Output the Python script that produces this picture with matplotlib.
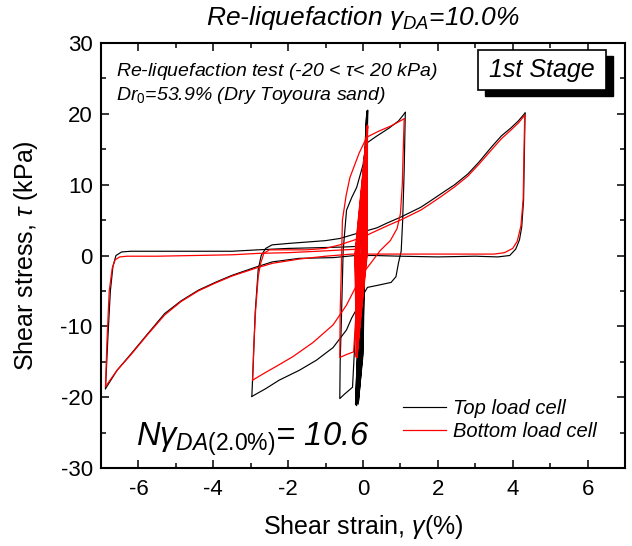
import matplotlib
matplotlib.use("Agg")
import matplotlib.pyplot as plt
from matplotlib.patches import Rectangle
from matplotlib.ticker import MultipleLocator

plt.rcParams['font.family'] = ['Liberation Sans', 'DejaVu Sans']
plt.rcParams['mathtext.fontset'] = 'custom'
plt.rcParams['mathtext.rm'] = 'Liberation Sans'
plt.rcParams['mathtext.it'] = 'Liberation Sans:italic'
plt.rcParams['mathtext.bf'] = 'Liberation Sans:bold'
plt.rcParams['axes.unicode_minus'] = False

# ---------------- data (strain %, stress kPa) ----------------
# Top load cell (black)
top_band_x = [-0.05, -0.20, 0.10, -0.02, -0.14, 0.11, -0.08, -0.17, 0.12, -0.01, -0.12, 0.10,
              -0.06, -0.19, 0.13, -0.03, -0.15, 0.11, -0.09, -0.18, 0.12, 0.00, -0.13, 0.10]
top_band_y = [0.0, -21.0, 20.4, -14.0, -20.8, 20.2, -14.0, -21.2, 20.5, -14.0, -20.6, 20.3,
              -14.0, -21.1, 20.5, -14.0, -20.9, 20.2, -14.0, -20.7, 20.4, -14.0, -21.0, 20.2]
top_t1_x = [0.10, -0.28, -0.50, -0.62, -0.61, -0.58, -0.53, -0.44, -0.30, -0.17, 0.00, 0.08,
            0.35, 0.70, 0.95, 1.13]
top_t1_y = [20.2, -18.6, -19.6, -20.2, -15.0, -9.6, 0.7, 6.4, 8.2, 9.6, 12.8, 15.8,
            16.8, 18.0, 19.0, 20.2]
top_p1_x = [1.13, 1.10, 1.06, 1.02, 0.95, 0.88, 0.75, 0.40, 0.12, 0.02, -0.10, -0.30, -0.44,
            -0.80, -1.25, -1.70, -2.24, -2.60, -2.97]
top_p1_y = [20.2, 12.0, 5.0, 0.6, -1.0, -3.0, -3.8, -4.2, -4.5, -5.4, -6.9, -8.8, -10.5,
            -13.0, -14.8, -16.2, -17.6, -18.8, -19.9]
top_t2_x = [-2.97, -2.93, -2.88, -2.80, -2.72, -2.60, -2.43, -2.00, -1.50, -1.00, -0.62, -0.17,
            0.37, 0.65, 1.00, 1.27, 1.54, 1.80, 2.08, 2.45, 2.80, 3.10, 3.43, 3.70, 3.95,
            4.15, 4.33]
top_t2_y = [-19.9, -15.0, -8.0, -2.0, 0.0, 1.0, 1.5, 1.7, 1.9, 2.1, 2.4, 3.1,
            3.9, 4.6, 5.4, 6.1, 6.8, 7.7, 8.7, 10.0, 11.5, 13.2, 15.3, 16.9, 18.0,
            19.0, 20.1]
top_p2_x = [4.33, 4.31, 4.29, 4.24, 4.18, 4.08, 3.92, 3.60, 3.00, 2.00, 1.00, 0.30, -0.20,
            -0.80, -1.70, -2.42, -2.87, -3.50, -3.95, -4.40, -4.86, -5.30, -5.76, -6.20,
            -6.57, -6.88]
top_p2_y = [20.1, 14.0, 7.8, 4.0, 2.2, 0.9, 0.0, -0.2, -0.1, -0.2, -0.1, 0.0, 0.0,
            -0.3, -0.4, -0.9, -1.65, -2.8, -3.8, -4.9, -6.4, -8.2, -11.1, -13.9,
            -16.2, -18.8]
top_t3_x = [-6.88, -6.82, -6.75, -6.68, -6.60, -6.45, -6.20, -5.50, -4.50, -3.50, -2.80,
            -2.00, -1.20, -0.50, -0.10]
top_t3_y = [-18.8, -12.0, -5.0, -1.5, 0.0, 0.5, 0.6, 0.6, 0.6, 0.6, 0.8,
            1.0, 1.1, 1.2, 1.3]

# Bottom load cell (red)
bot_band_x = [-0.05, -0.17, 0.10, 0.12, -0.21, -0.16, 0.06, 0.12, -0.17, -0.18, 0.02, 0.12,
              -0.13, -0.16, -0.02, 0.12, -0.09, -0.18, 0.08, 0.12, -0.19, -0.17, 0.04, 0.12,
              -0.15, -0.16, 0.11, 0.12, -0.22, -0.17, -0.05, 0.12, -0.11, -0.18, 0.0]
bot_band_y = [0.0, -14.3, 0.0, 18.3, 0.0, -14.4, 0.0, 18.1, 0.0, -14.2, 0.0, 18.4,
              0.0, -14.3, 0.0, 18.2, 0.0, -14.4, 0.0, 18.3, 0.0, -14.2, 0.0, 18.2,
              0.0, -14.3, 0.0, 18.4, 0.0, -14.4, 0.0, 18.3, 0.0, -14.3, 0.0]
bot_t1_x = [0.0, 0.12, -0.25, -0.45, -0.62, -0.61, -0.58, -0.55, -0.45, -0.35, -0.10, 0.10,
            0.40, 0.75, 1.10]
bot_t1_y = [0.0, 18.3, -13.6, -14.0, -14.4, -8.0, -2.0, 5.0, 8.5, 11.0, 14.5, 16.7,
            17.5, 18.3, 19.3]
bot_p1_x = [1.10, 1.07, 1.05, 1.00, 0.91, 0.73, 0.46, 0.19, 0.00, -0.20, -0.44, -0.80,
            -1.34, -1.88, -2.30, -2.60, -2.95]
bot_p1_y = [19.3, 14.0, 10.0, 5.9, 3.8, 2.1, 0.7, -1.2, -2.5, -4.5, -7.0, -9.8,
            -12.3, -14.3, -15.6, -16.5, -17.6]
bot_t2_x = [-2.95, -2.92, -2.87, -2.80, -2.74, -2.65, -2.50, -2.00, -1.52, -1.00, -0.62,
            0.00, 0.28, 0.65, 1.00, 1.27, 1.54, 1.80, 2.08, 2.45, 2.80, 3.10, 3.43, 3.70,
            3.95, 4.15, 4.32]
bot_t2_y = [-17.6, -13.0, -7.8, -3.0, -1.2, 0.3, 0.8, 0.8, 0.8, 1.0, 1.5,
            2.6, 3.3, 4.2, 5.0, 5.7, 6.4, 7.3, 8.3, 9.7, 11.2, 12.9, 14.9, 16.5,
            17.7, 18.7, 19.8]
bot_p2_x = [4.32, 4.30, 4.28, 4.22, 4.12, 4.00, 3.78, 3.50, 3.00, 2.00, 1.00, 0.20, -0.30,
            -1.00, -1.70, -2.42, -2.87, -3.50, -3.95, -4.40, -4.86, -5.30, -5.76, -6.20,
            -6.57, -6.88]
bot_p2_y = [19.8, 14.0, 8.0, 4.2, 2.0, 1.0, 0.4, 0.2, 0.2, 0.2, 0.2, 0.2, 0.2,
            -0.1, -0.5, -1.1, -1.8, -2.9, -3.9, -5.0, -6.5, -8.4, -11.2, -14.0,
            -16.2, -18.5]
bot_t3_x = [-6.88, -6.84, -6.78, -6.70, -6.62, -6.50, -6.30, -5.50, -4.50, -3.50, -2.80,
            -2.00, -1.20, -0.50, -0.10]
bot_t3_y = [-18.5, -12.0, -5.0, -1.8, -0.6, -0.2, -0.1, -0.1, 0.0, 0.1, 0.3,
            0.4, 0.6, 0.8, 0.9]

x_ticks = [-6, -4, -2, 0, 2, 4, 6]
y_ticks = [-30, -20, -10, 0, 10, 20, 30]

# ---------------- figure ----------------
W, H = 632, 546
fig = plt.figure(figsize=(W / 100, H / 100), dpi=100)
L, R, T, B = 101, 625, 43, 468
ax = fig.add_axes([L / W, 1 - B / H, (R - L) / W, (B - T) / H])

top_paths = [(top_band_x, top_band_y), (top_t1_x, top_t1_y), (top_p1_x, top_p1_y),
             (top_t2_x, top_t2_y), (top_p2_x, top_p2_y), (top_t3_x, top_t3_y)]
bot_paths = [(bot_band_x, bot_band_y), (bot_t1_x, bot_t1_y), (bot_p1_x, bot_p1_y),
             (bot_t2_x, bot_t2_y), (bot_p2_x, bot_p2_y), (bot_t3_x, bot_t3_y)]

for i, (xs, ys) in enumerate(top_paths):
    ax.plot(xs, ys, color='black', lw=0.85, label='Top load cell' if i == 0 else None,
            solid_joinstyle='round')
for i, (xs, ys) in enumerate(bot_paths):
    ax.plot(xs, ys, color='#ff0000', lw=0.9, label='Bottom load cell' if i == 0 else None,
            solid_joinstyle='round')

ax.set_xlim(-7, 7)
ax.set_ylim(-30, 30)
ax.set_xticks(x_ticks)
ax.set_yticks(y_ticks)
ax.xaxis.set_minor_locator(MultipleLocator(1))
ax.yaxis.set_minor_locator(MultipleLocator(5))
ax.tick_params(which='both', direction='in', top=True, right=True, width=1.1,
               labelsize=16)
ax.tick_params(axis='x', which='both', pad=8)
ax.tick_params(axis='y', which='both', pad=6)
ax.tick_params(which='major', length=6)
ax.tick_params(which='minor', length=3.5)
for s in ax.spines.values():
    s.set_linewidth(1.5)

ax.set_xlabel(r'Shear strain, $\gamma$(%)', fontsize=18, labelpad=9)
ax.set_ylabel(r'Shear stress, $\tau$ (kPa)', fontsize=18, labelpad=15)

fig.text((L + R) / 2 / W, 1 - 18 / H, r'Re-liquefaction $\gamma_{DA}$=10.0%',
         ha='center', va='center', fontsize=19, style='italic')

fx = lambda px: (px - L) / (R - L)
fy = lambda py: (B - py) / (B - T)

ax.text(fx(116), fy(72), r'Re-liquefaction test (-20 < $\tau$< 20 kPa)',
        transform=ax.transAxes, fontsize=14, style='italic', va='center', ha='left')
ax.text(fx(116), fy(96), r'Dr$_0$=53.9% (Dry Toyoura sand)',
        transform=ax.transAxes, fontsize=14, style='italic', va='center', ha='left')

# "1st Stage" box with shadow
bx0, bx1, by0, by1 = 478, 606, 50, 90
sh = Rectangle((fx(bx0 + 7), fy(by1 + 6)), fx(bx1) - fx(bx0), fy(by0) - fy(by1),
               transform=ax.transAxes, facecolor='black', edgecolor='black', zorder=5)
bx = Rectangle((fx(bx0), fy(by1)), fx(bx1) - fx(bx0), fy(by0) - fy(by1),
               transform=ax.transAxes, facecolor='white', edgecolor='black', lw=1.2, zorder=6)
ax.add_patch(sh)
ax.add_patch(bx)
ax.text(fx((bx0 + bx1) / 2), fy((by0 + by1) / 2), '1st Stage', transform=ax.transAxes,
        ha='center', va='center', fontsize=18, style='italic', zorder=7)

ax.text(fx(136), fy(439), r'$N\gamma_{DA(2.0\%)}$= 10.6', transform=ax.transAxes,
        fontsize=23.5, style='italic', ha='left', va='center')

leg = ax.legend(loc='upper left', bbox_to_anchor=(fx(403), fy(399)), frameon=False,
                prop={'size': 14.5, 'style': 'italic'}, handlelength=2.15,
                handletextpad=0.35, labelspacing=0.2, borderaxespad=0, borderpad=0)

fig.savefig('out.png', dpi=100)
